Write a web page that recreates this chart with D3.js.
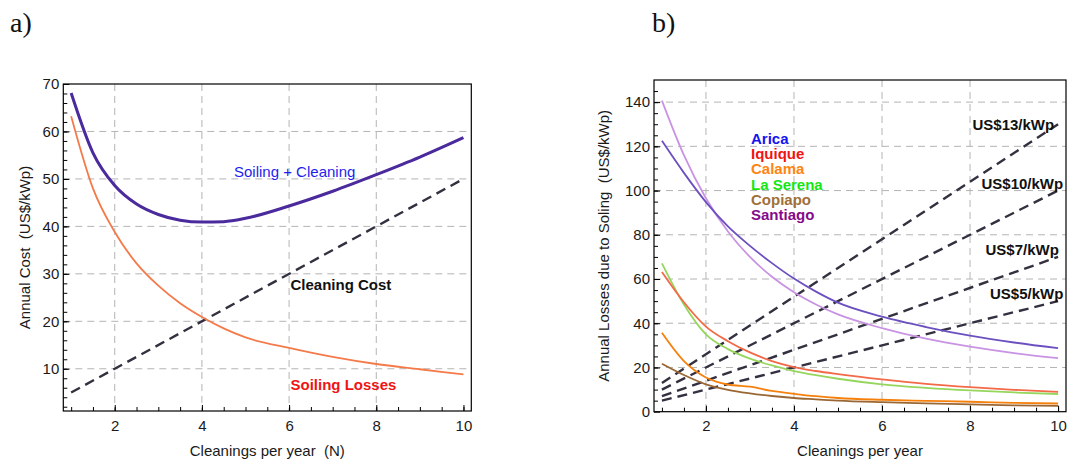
<!DOCTYPE html>
<html><head><meta charset="utf-8">
<script src="https://cdn.jsdelivr.net/npm/d3@7"></script>
<style>
html,body{margin:0;padding:0;background:#fff;}
svg{display:block;font-family:"Liberation Sans",Arial,sans-serif;}
</style></head>
<body><svg id="c" width="1079" height="460"></svg>
<script>
// ---------- data ----------
const N = [1, 1.5, 2, 2.5, 3, 3.5, 4, 4.5, 5, 6, 7, 8, 9, 10];
// panel a
const soilingLosses = [63.2, 48, 38.8, 32.2, 27.5, 23.8, 20.9, 18.5, 16.6, 14.4, 12.5, 11.0, 9.9, 8.8];
const soilingPlusCleaning = [68.1, 55.5, 48.6, 44.7, 42.5, 41.3, 40.9, 41.0, 41.7, 44.3, 47.4, 50.9, 54.6, 58.7];
const costN = [1, 10];
const cleaningCost = [5, 50];
// panel b
const arica    = [122.5, 108, 94.8, 83.8, 75.0, 67.2, 60.2, 54.3, 49.3, 43.0, 38.3, 34.4, 31.3, 28.7];
const santiago = [140.7, 116, 96.5, 81.5, 70.0, 61.0, 54.0, 48.5, 44.0, 37.8, 33.0, 29.4, 26.5, 24.2];
const iquique  = [63.2, 49.5, 38.5, 31.9, 26.8, 22.9, 20.2, 18.4, 17.0, 14.6, 12.6, 11.1, 9.9, 9.0];
const laSerena = [67.1, 48.5, 35.0, 28.3, 24.0, 20.9, 18.4, 16.5, 14.9, 12.4, 10.8, 9.6, 8.7, 8.0];
const calama   = [35.7, 22.9, 15.5, 12.3, 11.3, 9.4, 8.1, 7.0, 6.2, 5.4, 4.9, 4.5, 4.0, 3.7];
const copiapo  = [21.7, 16.6, 12.4, 9.9, 8.3, 7.1, 6.2, 5.6, 5.0, 4.3, 3.8, 3.3, 2.9, 2.6];
const priceLabels = ["US$13/kWp", "US$10/kWp", "US$7/kWp", "US$5/kWp"];
const priceLines = [[13, 130], [10, 100], [7, 70], [5, 50]];
const cityNames = ["Arica", "Iquique", "Calama", "La Serena", "Copiapo", "Santiago"];
const cityColors = ["#1414f0", "#f01414", "#ff8410", "#14e614", "#a0703a", "#850a8a"];
const xTicks = [2, 4, 6, 8, 10];
const yTicksA = [10, 20, 30, 40, 50, 60, 70];
const yTicksB = [0, 20, 40, 60, 80, 100, 120, 140];

const svg = d3.select("#c");
const dashCol = "#34303f";

function panel(o) {
  const g = svg.append("g");
  const x = d3.scaleLinear().domain(o.xDom).range([o.left, o.right]);
  const y = d3.scaleLinear().domain(o.yDom).range([o.bottom, o.top]);
  // grid
  g.append("g").selectAll("line").data(o.xGrid).join("line")
    .attr("x1", d => x(d)).attr("x2", d => x(d)).attr("y1", o.top).attr("y2", o.bottom)
    .attr("stroke", "#b4b4b4").attr("stroke-width", 1).attr("stroke-dasharray", "7,5");
  g.append("g").selectAll("line").data(o.yGrid).join("line")
    .attr("y1", d => y(d)).attr("y2", d => y(d)).attr("x1", o.left).attr("x2", o.right)
    .attr("stroke", "#b4b4b4").attr("stroke-width", 1).attr("stroke-dasharray", "7,5");
  // minor ticks
  const xm = g.append("g").attr("transform", `translate(0,${o.bottom})`)
    .call(d3.axisBottom(x).tickValues(o.xMinor).tickFormat("").tickSize(-4));
  const ym = g.append("g").attr("transform", `translate(${o.left},0)`)
    .call(d3.axisLeft(y).tickValues(o.yMinor).tickFormat("").tickSize(-4));
  // major ticks
  const xa = g.append("g").attr("transform", `translate(0,${o.bottom})`)
    .call(d3.axisBottom(x).tickValues(xTicks).tickFormat(d3.format("d")).tickSize(-6).tickPadding(9));
  const ya = g.append("g").attr("transform", `translate(${o.left},0)`)
    .call(d3.axisLeft(y).tickValues(o.yTicks).tickFormat(d3.format("d")).tickSize(-6).tickPadding(4));
  [xm, ym, xa, ya].forEach(a => {
    a.select(".domain").remove();
    a.selectAll("line").attr("stroke", "#000").attr("stroke-width", 1);
    a.selectAll("text").attr("font-size", 15).attr("fill", "#1a1a1a")
      .attr("font-family", '"Liberation Sans",Arial,sans-serif');
  });
  xa.selectAll("text").attr("dy", "0.71em");
  // frame
  g.append("rect").attr("x", o.left).attr("y", o.top)
    .attr("width", o.right - o.left).attr("height", o.bottom - o.top)
    .attr("fill", "none").attr("stroke", "#000").attr("stroke-width", 1.2);
  // labels
  g.append("text").attr("x", (o.left + o.right) / 2).attr("y", 456)
    .attr("text-anchor", "middle").attr("font-size", 15).attr("fill", "#1a1a1a")
    .style("white-space", "pre").text(o.xLabel);
  g.append("text").attr("transform", `translate(${o.yLabelX},${(o.top + o.bottom) / 2}) rotate(-90)`)
    .attr("text-anchor", "middle").attr("font-size", 15).attr("fill", "#1a1a1a")
    .style("white-space", "pre").text(o.yLabel);
  g.append("text").attr("x", o.titleX).attr("y", 32)
    .attr("font-family", '"Liberation Serif","DejaVu Serif",serif').attr("font-size", 28)
    .attr("fill", "#111").text(o.title);
  const clip = "clip" + o.title.replace(")", "");
  svg.append("clipPath").attr("id", clip).append("rect")
    .attr("x", o.left).attr("y", o.top).attr("width", o.right - o.left).attr("height", o.bottom - o.top);
  const plot = g.append("g").attr("clip-path", `url(#${clip})`);
  return {g, plot, x, y};
}

// ---------- panel a ----------
const A = panel({
  left: 63.3, right: 471.3, top: 84, bottom: 411,
  xDom: [0.82, 10.18], yDom: [1.1, 70],
  xGrid: [2, 4, 6, 8], yGrid: [10, 20, 30, 40, 50, 60],
  xMinor: d3.range(1, 10.01, 0.5), yMinor: d3.range(2, 70.1, 2),
  yTicks: yTicksA,
  xLabel: "Cleanings per year  (N)", yLabel: "Annual Cost  (US$/kWp)", yLabelX: 30,
  title: "a)", titleX: 10
});
const lineA = d3.line().x((d, i) => A.x(N[i])).y(d => A.y(d)).curve(d3.curveMonotoneX);
A.plot.append("path").attr("d", d3.line().x((d, i) => A.x(costN[i])).y(d => A.y(d))(cleaningCost))
  .attr("fill", "none").attr("stroke", dashCol).attr("stroke-width", 2.4).attr("stroke-dasharray", "10,6");
A.plot.append("path").attr("d", lineA(soilingLosses))
  .attr("fill", "none").attr("stroke", "#f47a4a").attr("stroke-width", 1.8);
A.plot.append("path").attr("d", lineA(soilingPlusCleaning))
  .attr("fill", "none").attr("stroke", "#4a2a9c").attr("stroke-width", 3);
A.g.append("text").attr("x", 234).attr("y", 176.5).attr("font-size", 15).attr("fill", "#1e1ef0")
  .text("Soiling + Cleaning");
A.g.append("text").attr("x", 290.5).attr("y", 290).attr("font-size", 15).attr("font-weight", "bold")
  .attr("fill", "#111").text("Cleaning Cost");
A.g.append("text").attr("x", 290.5).attr("y", 389.5).attr("font-size", 15).attr("font-weight", "bold")
  .attr("fill", "#f01414").text("Soiling Losses");

// ---------- panel b ----------
const B = panel({
  left: 654, right: 1066, top: 80, bottom: 411.7,
  xDom: [0.82, 10.18], yDom: [0, 150],
  xGrid: [2, 4, 6, 8], yGrid: [20, 40, 60, 80, 100, 120, 140],
  xMinor: d3.range(1, 10.01, 0.5), yMinor: d3.range(5, 150, 5),
  yTicks: yTicksB,
  xLabel: "Cleanings per year", yLabel: "Annual Losses due to Soling  (US$/kWp)", yLabelX: 609,
  title: "b)", titleX: 652
});
const lineB = d3.line().x((d, i) => B.x(N[i])).y(d => B.y(d)).curve(d3.curveMonotoneX);
const citySeries = [
  {v: copiapo, c: "#9a6734"}, {v: calama, c: "#f5800c"},
  {v: laSerena, c: "#96d65c"}, {v: iquique, c: "#f26a48"},
  {v: santiago, c: "#c993e3"}, {v: arica, c: "#6c50c0"}
];
priceLines.forEach(p => {
  B.plot.append("path").attr("d", d3.line().x((d, i) => B.x(costN[i])).y(d => B.y(d))(p))
    .attr("fill", "none").attr("stroke", dashCol).attr("stroke-width", 2.4).attr("stroke-dasharray", "10,6");
});
citySeries.forEach(s => {
  B.plot.append("path").attr("d", lineB(s.v)).attr("fill", "none")
    .attr("stroke", s.c).attr("stroke-width", 1.8);
});
const priceLabelPos = [[972.5, 129.5], [981.5, 188.5], [985.5, 255], [990, 298.5]];
priceLabels.forEach((t, i) => {
  B.g.append("text").attr("x", priceLabelPos[i][0]).attr("y", priceLabelPos[i][1])
    .attr("font-size", 15).attr("font-weight", "bold").attr("fill", "#111").text(t);
});
cityNames.forEach((t, i) => {
  B.g.append("text").attr("x", 751).attr("y", 144 + i * 15.2)
    .attr("font-size", 15).attr("font-weight", "bold").attr("fill", cityColors[i]).text(t);
});
</script></body></html>
